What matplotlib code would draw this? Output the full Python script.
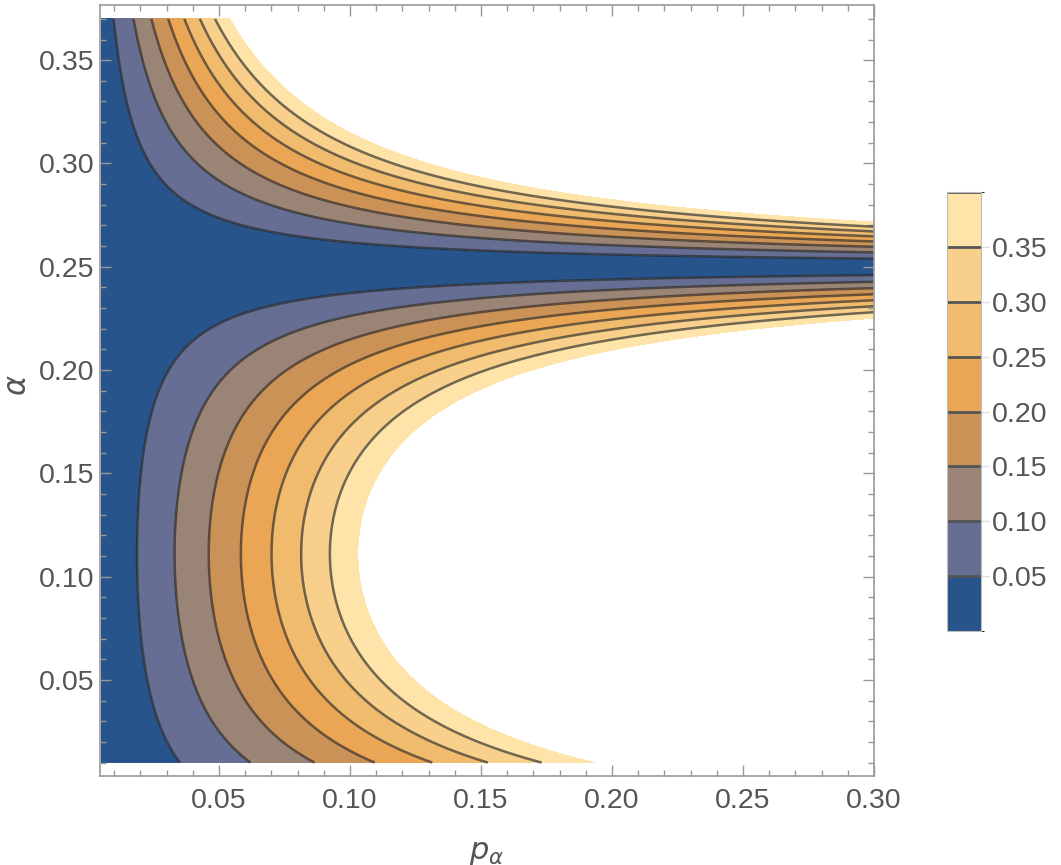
import numpy as np
import matplotlib.pyplot as plt
from matplotlib.colors import ListedColormap, BoundaryNorm
from matplotlib.ticker import MultipleLocator

# contour levels and band colours
levels = [0.0, 0.05, 0.10, 0.15, 0.20, 0.25, 0.30, 0.35, 0.40]
band_colors = ["#26548b", "#666f93", "#9a8475", "#cb9258",
               "#eaa654", "#f1bb6e", "#f8d08b", "#fee4a8"]
cbar_ticks = [0.05, 0.10, 0.15, 0.20, 0.25, 0.30, 0.35]
x_ticks = [0.05, 0.10, 0.15, 0.20, 0.25, 0.30]
y_ticks = [0.05, 0.10, 0.15, 0.20, 0.25, 0.30, 0.35]

# plotted ranges
p_range = (0.005, 0.30)
a_range = (0.01, 0.37)

# field parameters, fitted to where the contours sit in the picture
alpha_zero = 0.25     # value is zero along this alpha
slope_upper = 154.0   # steepness above alpha_zero
q_floor = 17.0        # steepness at alpha -> 0
q_power = 0.83
p_power = 1.22
f_edge = 0.40


def field(p, a):
    t = np.clip(1 - a / alpha_zero, 0, None)
    q = np.where(a < alpha_zero, slope_upper - (slope_upper - q_floor) * t ** q_power, slope_upper)
    h = np.abs(a - alpha_zero) * q
    return f_edge * (p * h) ** p_power


p = np.linspace(p_range[0], p_range[1], 700)
a = np.linspace(a_range[0], a_range[1], 700)
P, A = np.meshgrid(p, a)
Z = field(P, A)

plt.rcParams['font.family'] = ['Liberation Sans', 'DejaVu Sans']
grey = "#555555"
frame_col = "#999999"
fs = 20.5

fig = plt.figure(figsize=(10.61, 8.65), dpi=100)
ax = fig.add_axes([100 / 1061, 1 - 776 / 865, 774 / 1061, 771 / 865])

cmap = ListedColormap(band_colors)
norm = BoundaryNorm(levels, cmap.N)
cf = ax.contourf(P, A, Z, levels=levels, cmap=cmap, norm=norm)
cs = ax.contour(P, A, Z, levels=levels[1:-1], colors=[(0.15, 0.15, 0.15, 0.65)], linewidths=1.8)

ax.set_xlim(0.0046, 0.30)
ax.set_ylim(0.0035, 0.3767)
ax.set_xticks(x_ticks)
ax.set_yticks(y_ticks)
ax.xaxis.set_minor_locator(MultipleLocator(0.01))
ax.yaxis.set_minor_locator(MultipleLocator(0.01))
ax.xaxis.set_major_formatter(lambda v, pos: f"{v:.2f}")
ax.yaxis.set_major_formatter(lambda v, pos: f"{v:.2f}")
ax.tick_params(which='both', direction='in', top=True, right=True,
               color=frame_col, labelcolor=grey, labelsize=fs, width=1)
ax.tick_params(which='major', length=8)
ax.tick_params(which='minor', length=4)
ax.tick_params(axis='x', which='major', pad=9)
ax.tick_params(axis='y', which='major', pad=4)
for s in ax.spines.values():
    s.set_color(frame_col)
    s.set_linewidth(1.2)

ax.set_xlabel(r"$p_\alpha$", fontsize=22, color=grey, labelpad=16)
fig.text(18 / 1061, 1 - 385 / 865, r"$\alpha$", fontsize=22, color=grey,
         rotation=90, ha='center', va='center')

# colour bar
cax = fig.add_axes([947 / 1061, 1 - 631 / 865, 34 / 1061, 439 / 865])
cb = fig.colorbar(cf, cax=cax, ticks=cbar_ticks)
cb.outline.set_edgecolor("#bbbbbb")
cb.outline.set_linewidth(0.8)
for lv in levels[1:]:
    cax.axhline(lv, color="#555555", lw=2)
cax.tick_params(length=6, width=1, color="#dddddd", labelcolor=grey, labelsize=fs, pad=2)
cb.ax.yaxis.set_major_formatter(lambda v, pos: f"{v:.2f}")

fig.savefig("out.png", dpi=100)
